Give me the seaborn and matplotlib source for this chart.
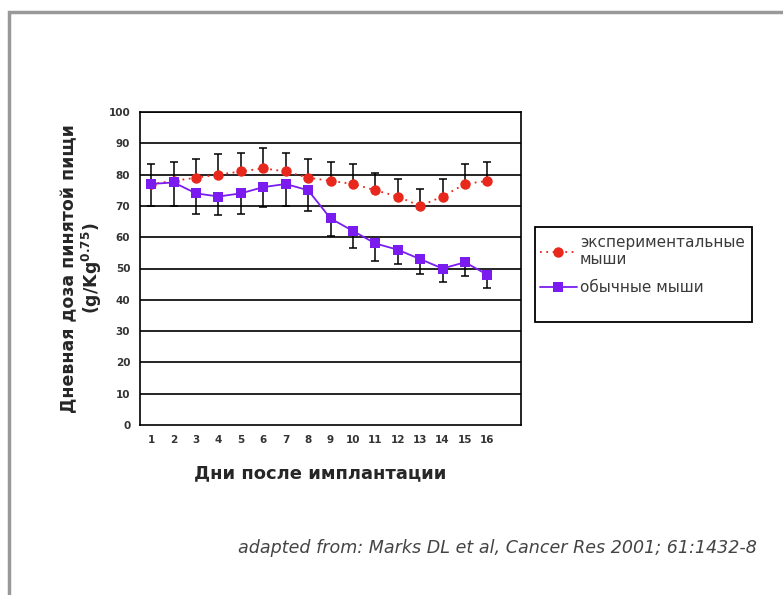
import numpy as np
import pandas as pd
import matplotlib
matplotlib.use("Agg")
import matplotlib.pyplot as plt
from matplotlib.patches import Rectangle
import seaborn as sns

# --- data ---
days = list(range(1, 17))
exp_mean = [77, 78, 79, 80, 81, 82, 81, 79, 78, 77, 75, 73, 70, 73, 77, 78]
exp_err_up = [6.5, 6, 6, 6.5, 6, 6.5, 6, 6, 6, 6.5, 5.5, 5.5, 5.5, 5.5, 6.5, 6]
ctl_mean = [77, 77.5, 74, 73, 74, 76, 77, 75, 66, 62, 58, 56, 53, 50, 52, 48]
ctl_err_dn = [7, 7.5, 6.5, 6, 6.5, 6.5, 7, 6.5, 5.5, 5.5, 5.5, 4.5, 4.7, 4.4, 4.3, 4.1]
y_ticks = list(range(0, 101, 10))
exp_label = "экспериментальные\nмыши"
ctl_label = "обычные мыши"
x_title = "Дни после имплантации"
y_title = "Дневная доза пинятой пищи\n(g/Kg$^{0.75}$)"
source = "adapted from: Marks DL et al, Cancer Res 2001; 61:1432-8"

RED = "#e8281c"
PURPLE = "#7a1cf0"

sns.set_style("white")
plt.rcParams["font.family"] = ["DejaVu Sans"]
plt.rcParams["mathtext.default"] = "regular"

fig = plt.figure(figsize=(7.83, 5.95), dpi=100)
W, H = 783, 595
ax = fig.add_axes([140 / W, 1 - 425 / H, (521 - 140) / W, (425 - 112) / H])

df = pd.DataFrame({
    "day": days * 2,
    "value": exp_mean + ctl_mean,
    "group": [exp_label] * 16 + [ctl_label] * 16,
})

# horizontal grid
for v in y_ticks[1:]:
    ax.axhline(v, color="black", lw=1.2, zorder=1)

# error bars (one-sided, like the original Excel chart)
ax.errorbar(days, exp_mean, yerr=[np.zeros(16), exp_err_up], fmt="none",
            ecolor="black", elinewidth=1.1, capsize=3, capthick=1.1, zorder=2)
ax.errorbar(days, ctl_mean, yerr=[ctl_err_dn, np.zeros(16)], fmt="none",
            ecolor="black", elinewidth=1.1, capsize=3, capthick=1.1, zorder=2)

sns.lineplot(data=df, x="day", y="value", hue="group", style="group",
             palette={exp_label: RED, ctl_label: PURPLE},
             markers={exp_label: "o", ctl_label: "s"},
             dashes={exp_label: (1, 2.5), ctl_label: ""},
             markersize=7.5, markeredgewidth=0, linewidth=1.3, ax=ax, zorder=3)

ax.set_xlim(0.5, 17.5)
ax.set_ylim(0, 100)
ax.set_yticks(y_ticks)
ax.set_yticklabels([str(v) for v in y_ticks], fontsize=7.5, fontweight="bold", color="#333333")
ax.set_xticks(np.arange(0.5, 18, 1))
ax.set_xticklabels([])
ax.set_xticks(days, minor=True)
ax.set_xticklabels([str(d) for d in days], minor=True, fontsize=7.5,
                   fontweight="bold", color="#333333")
ax.tick_params(axis="x", which="major", direction="out", length=4, width=1.2, color="black")
ax.tick_params(axis="x", which="minor", length=0, pad=7)
ax.tick_params(axis="y", direction="out", length=4, width=1.2, color="black", pad=3)
for s in ax.spines.values():
    s.set_color("black")
    s.set_linewidth(1.2)

ax.set_xlabel(x_title, fontsize=13, fontweight="bold")
ax.xaxis.set_label_coords((320 - 140) / 381, -(473 - 425) / 313, transform=ax.transAxes)
ax.xaxis.label.set_va("center")
ax.set_ylabel(y_title, fontsize=12.5, fontweight="bold", labelpad=3, linespacing=1.1)

# legend box drawn separately so its size matches the reference
fig.patches.append(Rectangle((535 / W, 1 - 322 / H), (752 - 535) / W, (322 - 227) / H,
                             transform=fig.transFigure, fill=False,
                             edgecolor="black", linewidth=1.3, zorder=5))
leg = ax.legend(loc="upper left", bbox_to_anchor=(537 / W, 1 - 232 / H),
                bbox_transform=fig.transFigure, frameon=False,
                fontsize=11, handlelength=2.4, handletextpad=0.2, labelspacing=0.85,
                borderpad=0.2, borderaxespad=0)
for t in leg.get_texts():
    t.set_color("#3a3a3a")

fig.text(757 / W, 1 - 548 / H, source, ha="right", va="center",
         fontsize=12.6, style="italic", color="#444444")

# outer grey frame of the slide
fig.patches.append(Rectangle((9 / W, -0.1), 1.0, 1 - 12 / H + 0.1,
                             transform=fig.transFigure, fill=False,
                             edgecolor="#999999", linewidth=2.5))

fig.savefig("out.png", dpi=100)
